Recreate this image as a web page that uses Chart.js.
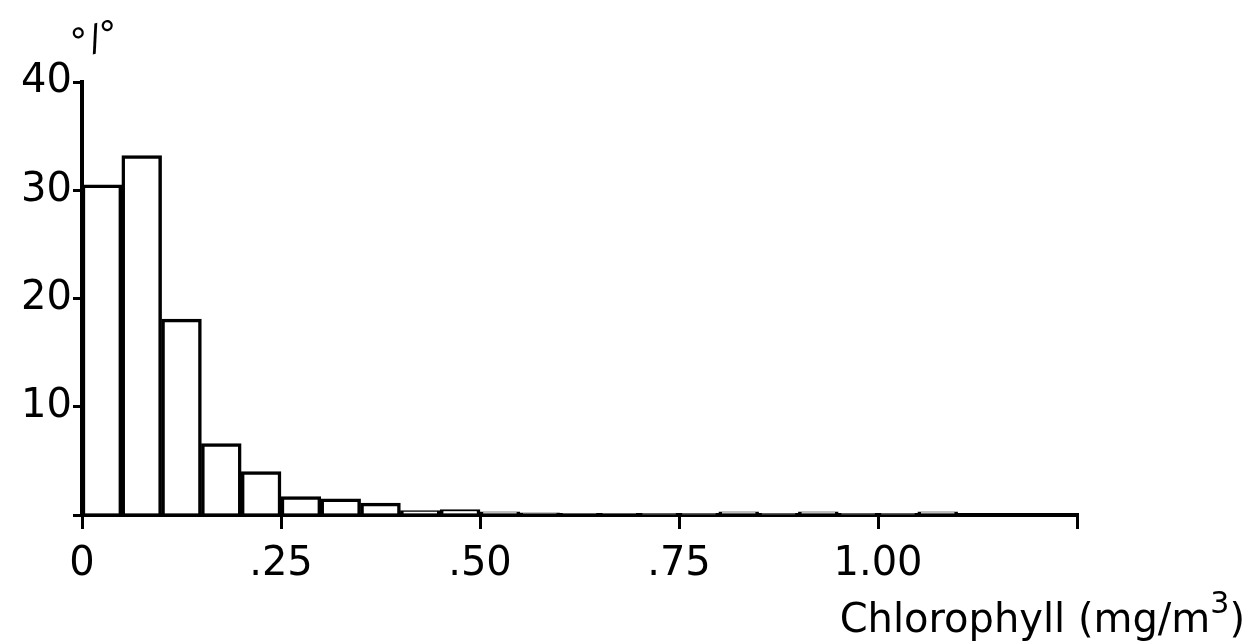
<!DOCTYPE html>
<html>
<head>
<meta charset="utf-8">
<title>Chlorophyll histogram</title>
<script src="https://cdn.jsdelivr.net/npm/chart.js@4"></script>
<style>
  body { margin: 0; background: #fff; }
</style>
</head>
<body>
<canvas id="myChart" width="1247" height="642"></canvas>
<script>
'use strict';

// bin starts (mg/m3), each bin is 0.05 wide
const binStart = [0, 0.05, 0.10, 0.15, 0.20, 0.25, 0.30, 0.35, 0.40, 0.45, 0.50,
  0.55, 0.60, 0.65, 0.70, 0.75, 0.80, 0.85, 0.90, 0.95, 1.00, 1.05];
// percent of samples in each bin
const percent = [30.5, 33.2, 18.1, 6.6, 4.0, 1.7, 1.5, 1.1, 0.4, 0.5, 0.3,
  0.2, 0.1, 0.1, 0.05, 0.05, 0.3, 0.05, 0.3, 0.05, 0.05, 0.3];
const binWidth = 0.05;

const xTicks = [0, 0.25, 0.50, 0.75, 1.00, 1.25];
const xTickLabels = ['0', '.25', '.50', '.75', '1.00', ''];
const yTicks = [0, 10, 20, 30, 40];

const points = [];
for (let i = 0; i < binStart.length; i++) {
  points.push({ x: binStart[i] + binWidth / 2, y: percent[i] });
}

const fontFamily = '"DejaVu Sans", sans-serif';

// text that is not part of any axis: the % sign and the axis name
const extraText = {
  id: 'extraText',
  afterDraw(chart) {
    const ctx = chart.ctx;
    ctx.save();
    ctx.fillStyle = '#000';
    ctx.textBaseline = 'alphabetic';

    // percent sign over the y axis, a bit slanted like the original
    ctx.save();
    ctx.translate(95, 38);
    ctx.rotate(-0.25);
    ctx.font = '36px ' + fontFamily;
    ctx.textAlign = 'center';
    ctx.fillText('°/°', 0, 12);
    ctx.restore();

    // x axis name, bottom right
    ctx.font = '40px ' + fontFamily;
    ctx.textAlign = 'right';
    const closeW = ctx.measureText(')').width;
    ctx.fillText(')', 1245, 632);
    ctx.font = '30px ' + fontFamily;
    const supW = ctx.measureText('3').width;
    ctx.fillText('3', 1245 - closeW, 613);
    ctx.font = '40px ' + fontFamily;
    ctx.fillText('Chlorophyll (mg/m', 1245 - closeW - supW, 632);
    ctx.restore();
  }
};

const data = {
  datasets: [{
    label: 'Chlorophyll',
    data: points,
    backgroundColor: '#fff',
    borderColor: '#000',
    borderWidth: 3.5,
    barPercentage: 1,
    categoryPercentage: 1
  }]
};

const config = {
  type: 'bar',
  data: data,
  options: {
    responsive: false,
    animation: false,
    layout: { padding: { top: 82, right: 170, left: 0, bottom: 0 } },
    plugins: {
      legend: { display: false },
      tooltip: { enabled: false }
    },
    scales: {
      x: {
        type: 'linear',
        min: 0,
        max: 1.25,
        offset: false,
        afterFit: function (scale) { scale.height = 127; },
        afterBuildTicks: function (scale) {
          scale.ticks = xTicks.map(v => ({ value: v }));
        },
        ticks: {
          color: '#000',
          font: { family: fontFamily, size: 40 },
          padding: 12,
          autoSkip: false,
          maxRotation: 0,
          callback: function (value) {
            const i = xTicks.indexOf(value);
            return i >= 0 ? xTickLabels[i] : '';
          }
        },
        grid: {
          offset: false,
          drawOnChartArea: false,
          drawTicks: true,
          tickLength: 14,
          color: '#000',
          lineWidth: 3
        },
        border: { display: true, color: '#000', width: 4 }
      },
      y: {
        min: 0,
        max: 40,
        afterFit: function (scale) { scale.width = 82; },
        afterBuildTicks: function (scale) {
          scale.ticks = yTicks.map(v => ({ value: v }));
        },
        ticks: {
          color: '#000',
          font: { family: fontFamily, size: 40 },
          padding: 1,
          callback: function (value) {
            return value === 0 ? '' : String(value);
          }
        },
        grid: {
          drawOnChartArea: false,
          drawTicks: true,
          tickLength: 9,
          color: '#000',
          lineWidth: 3
        },
        border: { display: true, color: '#000', width: 4 }
      }
    }
  },
  plugins: [extraText]
};

const myChart = new Chart(document.getElementById('myChart'), config);
</script>
</body>
</html>
